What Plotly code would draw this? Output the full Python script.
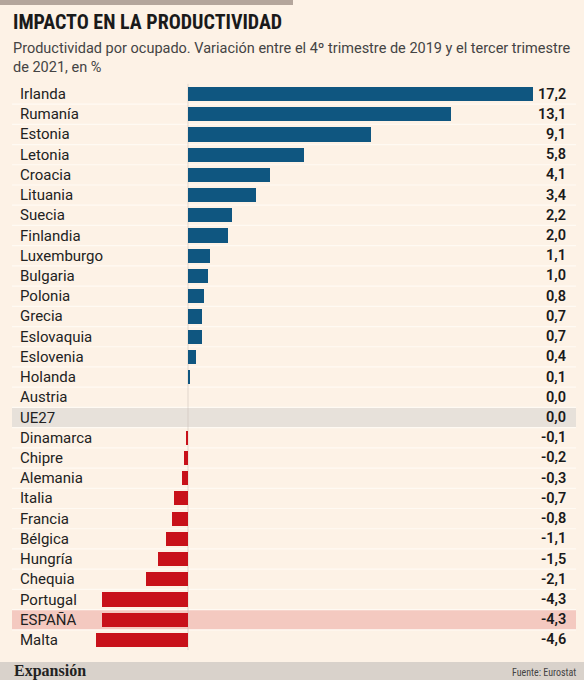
import plotly.graph_objects as go

countries = ["Irlanda", "Rumanía", "Estonia", "Letonia", "Croacia", "Lituania", "Suecia",
             "Finlandia", "Luxemburgo", "Bulgaria", "Polonia", "Grecia", "Eslovaquia",
             "Eslovenia", "Holanda", "Austria", "UE27", "Dinamarca", "Chipre", "Alemania",
             "Italia", "Francia", "Bélgica", "Hungría", "Chequia", "Portugal", "ESPAÑA", "Malta"]
values = [17.2, 13.1, 9.1, 5.8, 4.1, 3.4, 2.2, 2.0, 1.1, 1.0, 0.8, 0.7, 0.7, 0.4, 0.1,
          0.0, 0.0, -0.1, -0.2, -0.3, -0.7, -0.8, -1.1, -1.5, -2.1, -4.3, -4.3, -4.6]
highlight = {"UE27": "#e7e1da", "ESPAÑA": "#f4c9c0"}

W, H = 584, 680
BG = "#fdf2e6"
BLUE = "#0f5680"
RED = "#c8111a"

# pixel geometry
x_zero_px, px_per_unit = 188, 345 / 17.2
row0_px, row_px = 94, 20.22
n = len(countries)
ypos = list(range(n))

x_range = [-x_zero_px / px_per_unit, (W - x_zero_px) / px_per_unit]
y_range = [(H - row0_px) / row_px, -row0_px / row_px]

def px_x(p):
    return p / W

def px_y(p):
    return 1 - p / H

colors = [BLUE if v > 0 else RED for v in values]

fig = go.Figure()
fig.add_trace(go.Bar(
    x=values, y=ypos, orientation="h", width=0.7,
    marker=dict(color=colors, line=dict(width=0)),
    hoverinfo="skip",
))

shapes = []
# top accent bar
shapes.append(dict(type="rect", xref="paper", yref="paper",
                   x0=0, x1=px_x(293), y0=px_y(5), y1=1,
                   fillcolor="#b4a69c", line=dict(width=0), layer="below"))
# footer band
shapes.append(dict(type="rect", xref="paper", yref="paper",
                   x0=0, x1=1, y0=0, y1=px_y(662),
                   fillcolor="#d9d2cb", line=dict(width=0), layer="below"))
# highlighted rows
for c, col in highlight.items():
    i = countries.index(c)
    shapes.append(dict(type="rect", xref="paper", yref="y",
                       x0=px_x(12), x1=px_x(576), y0=i - 0.5, y1=i + 0.5,
                       fillcolor=col, line=dict(width=0), layer="below"))
# row separators
for i in range(n - 1):
    shapes.append(dict(type="line", xref="paper", yref="y",
                       x0=px_x(12), x1=px_x(576), y0=i + 0.5, y1=i + 0.5,
                       line=dict(color="#fffaf3", width=1.2), layer="below"))
# faint zero line
shapes.append(dict(type="line", xref="x", yref="y", x0=0, x1=0,
                   y0=-0.5, y1=n - 0.5, line=dict(color="rgba(200,190,180,0.5)", width=1),
                   layer="below"))

annotations = []
LABEL_FONT = "Roboto, Liberation Sans, Arial, sans-serif"
COND_FONT = "Roboto Condensed, Open Sans Condensed, Liberation Sans Narrow, DejaVu Sans Condensed, sans-serif"
for i, (c, v) in enumerate(zip(countries, values)):
    annotations.append(dict(x=px_x(18), y=i, xref="paper", yref="y", text=c,
                            showarrow=False, xanchor="left", yanchor="middle",
                            font=dict(family=LABEL_FONT, size=15, color="#222222")))
    annotations.append(dict(x=px_x(568), y=i, xref="paper", yref="y",
                            text=f"{v:.1f}".replace(".", ","),
                            showarrow=False, xanchor="right", yanchor="middle",
                            font=dict(family=LABEL_FONT, size=14.5,
                                      color="#1a1a1a", weight=600)))

annotations.append(dict(x=px_x(11), y=px_y(22), xref="paper", yref="paper",
                        text="IMPACTO EN LA PRODUCTIVIDAD", showarrow=False,
                        xanchor="left", yanchor="middle",
                        font=dict(family=COND_FONT, size=20, color="#1a1a1a", weight="bold")))
annotations.append(dict(x=px_x(11), y=px_y(58), xref="paper", yref="paper",
                        text="Productividad por ocupado. Variación entre el 4º trimestre de 2019 y el tercer trimestre<br>de 2021, en %",
                        showarrow=False, xanchor="left", yanchor="middle", align="left",
                        font=dict(family=LABEL_FONT, size=14.5, color="#444444")))
annotations.append(dict(x=px_x(12), y=px_y(671), xref="paper", yref="paper",
                        text="Expansión", showarrow=False, xanchor="left", yanchor="middle",
                        font=dict(family="Liberation Serif, DejaVu Serif, serif", size=16,
                                  color="#222222", weight="bold")))
annotations.append(dict(x=px_x(578), y=px_y(672), xref="paper", yref="paper",
                        text="Fuente: Eurostat", showarrow=False, xanchor="right", yanchor="middle",
                        font=dict(family=COND_FONT, size=10, color="#444444")))

fig.update_layout(
    width=W, height=H, autosize=False,
    margin=dict(l=0, r=0, t=0, b=0),
    paper_bgcolor=BG, plot_bgcolor="rgba(0,0,0,0)",
    showlegend=False, bargap=0,
    xaxis=dict(range=x_range, visible=False, fixedrange=True),
    yaxis=dict(range=y_range, visible=False, fixedrange=True),
    shapes=shapes, annotations=annotations,
)

fig.write_html("out.html", config={"displayModeBar": False},
               post_script="document.body.style.margin='0';document.body.style.padding='0';document.body.style.overflow='hidden';")
